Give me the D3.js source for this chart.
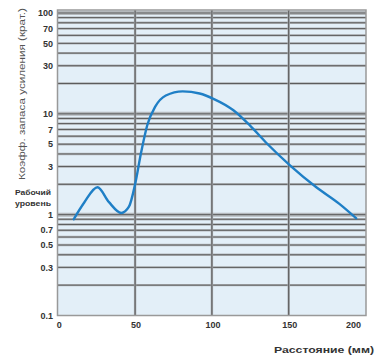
<!DOCTYPE html>
<html><head><meta charset="utf-8">
<script src="https://cdn.jsdelivr.net/npm/d3@7"></script>
<style>body{margin:0;background:#fff}svg{display:block}</style>
</head><body>
<svg id="c" width="382" height="359"></svg>
<script>
// Data
const distance = [10, 17, 25.5, 33, 41, 46, 50, 54, 58, 63, 70, 81, 92, 101, 114, 125, 136, 151, 168, 183, 194];
const gain     = [0.9, 1.33, 1.87, 1.33, 1.04, 1.2, 2.0, 4.2, 7.8, 11.7, 15.2, 16.7, 15.9, 14.1, 10.85, 7.6, 5.05, 3.07, 1.87, 1.28, 0.92];
const xTicks = [0, 50, 100, 150, 200];
const yTickValues = [0.1, 0.3, 0.5, 0.7, 1, 3, 5, 7, 10, 30, 50, 70, 100];
const yTickLabels = ["0.1", "0.3", "0.5", "0.7", "1", "3", "5", "7", "10", "30", "50", "70", "100"];
const yGrid = [0.2,0.3,0.4,0.5,0.6,0.7,0.8,0.9,1,2,3,4,5,6,7,8,9,10,20,30,40,50,60,70,80,90,100];
const xGrid = [50, 100, 150];
const yTitle = "Коэфф. запаса усиления (крат.)";
const xTitle = "Расстояние (мм)";
const workLabel = ["Рабочий", "уровень"];

const svg = d3.select("#c");
const FONT = "'Liberation Sans', Arial, sans-serif";
const x = d3.scaleLinear().domain([0, 200]).range([58.3, 365.5]);
const y = d3.scaleLog().domain([0.1, 100]).range([315.5, 13]);
const pTop = 10, pBottom = 315.5, pLeft = 57.5, pRight = 366;

svg.append("rect").attr("x", pLeft).attr("y", pTop).attr("width", pRight-pLeft).attr("height", pBottom-pTop)
  .attr("fill", "#e3eff8");

// horizontal grid
const g = svg.append("g");
yGrid.forEach(v => {
  const yy = y(v);
  const decade = Math.abs(Math.log10(v) - Math.round(Math.log10(v))) < 1e-9;
  g.append("line").attr("x1", pLeft).attr("x2", pRight).attr("y1", yy).attr("y2", yy)
    .attr("stroke", "#b4b8bc").attr("stroke-width", decade ? 4 : 2.4);
  g.append("line").attr("x1", pLeft).attr("x2", pRight).attr("y1", yy).attr("y2", yy)
    .attr("stroke", "#5a5a5a").attr("stroke-width", 1);
});
xGrid.forEach(v => {
  g.append("line").attr("x1", x(v)).attr("x2", x(v)).attr("y1", pTop).attr("y2", pBottom)
    .attr("stroke", "#a8acb0").attr("stroke-width", 2.4);
  g.append("line").attr("x1", x(v)).attr("x2", x(v)).attr("y1", pTop).attr("y2", pBottom)
    .attr("stroke", "#555").attr("stroke-width", 1);
});
svg.append("rect").attr("x", pLeft).attr("y", pTop).attr("width", pRight-pLeft).attr("height", pBottom-pTop)
  .attr("fill", "none").attr("stroke", "#999").attr("stroke-width", 1.5);

// curve
const pts = distance.map((d, i) => [d, gain[i]]);
svg.append("path").datum(pts)
  .attr("d", d3.line().x(d => x(d[0])).y(d => y(d[1])).curve(d3.curveMonotoneX))
  .attr("fill", "none").attr("stroke", "#1f7fc6").attr("stroke-width", 2.4).attr("stroke-linecap", "round");

// y tick labels
const yAxis = svg.append("g");
yTickValues.forEach((v, i) => {
  yAxis.append("text").attr("x", 53).attr("y", y(v)).attr("dy", "0.35em")
    .attr("text-anchor", "end").attr("font-family", FONT).attr("font-size", 9)
    .attr("font-weight", "bold").attr("fill", "#333").text(yTickLabels[i]);
});
// x tick labels
xTicks.forEach(v => {
  svg.append("text").attr("x", v === 200 ? x(v) - 12 : x(v) + 1).attr("y", 325).attr("dy", "0.35em")
    .attr("text-anchor", "middle").attr("font-family", FONT).attr("font-size", 9)
    .attr("font-weight", "bold").attr("fill", "#333").text(v);
});

// titles
svg.append("text").attr("transform", "translate(22,94) rotate(-90)")
  .attr("text-anchor", "middle").attr("dy", "0.35em").attr("font-family", FONT).attr("font-size", 9)
  .attr("fill", "#555").attr("textLength", 172).attr("lengthAdjust", "spacingAndGlyphs").text(yTitle);
svg.append("text").attr("x", 274).attr("y", 350).attr("dy", "0.35em")
  .attr("font-family", FONT).attr("font-size", 9).attr("fill", "#333").attr("font-weight", "bold")
  .attr("textLength", 100).attr("lengthAdjust", "spacingAndGlyphs").text(xTitle);
workLabel.forEach((t, i) => {
  svg.append("text").attr("x", 15).attr("y", 192 + i*11).attr("dy", "0.35em")
    .attr("font-family", FONT).attr("font-size", 8).attr("fill", "#333").attr("font-weight", "bold")
    .attr("textLength", 36).attr("lengthAdjust", "spacingAndGlyphs").text(t);
});
</script>
</body></html>
